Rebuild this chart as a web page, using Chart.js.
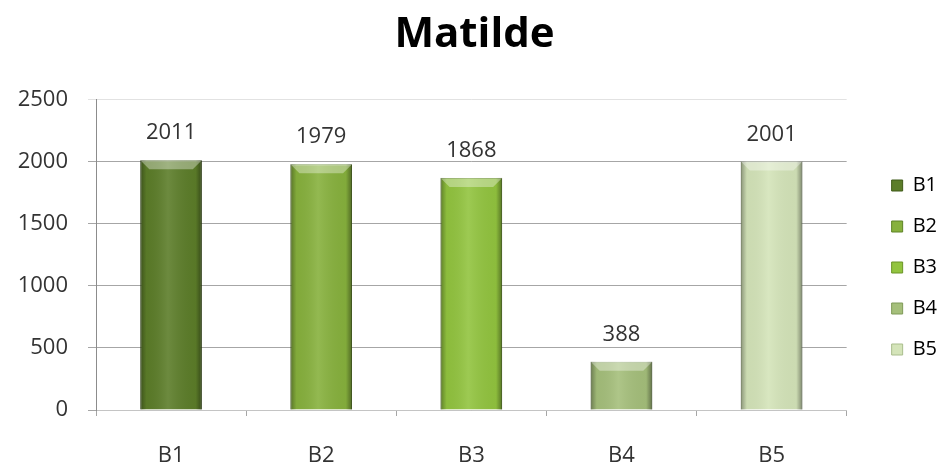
<!DOCTYPE html>
<html>
<head>
<meta charset="utf-8">
<title>Matilde</title>
<script src="https://cdn.jsdelivr.net/npm/chart.js@4"></script>
<style>
  body { margin: 0; background: #fff; }
</style>
</head>
<body>
<canvas id="chart" width="945" height="467"></canvas>
<script>
/* =========================
   DATA
========================= */
const categories = ["B1", "B2", "B3", "B4", "B5"];
const values = [2011, 1979, 1868, 388, 2001];
const yMin = 0;
const yMax = 2500;
const yStep = 500;

const barColors  = ["#5c7d29", "#87b13d", "#92c43f", "#a5bf7b", "#d4e4b9"];
const edgeColors = ["#3f5a18", "#5e8326", "#6a9427", "#7f9a58", "#a9bd8c"];

const FONT = "'Open Sans', 'Liberation Sans', sans-serif";
const TEXT = "#333333";

/* =========================
   PLUGINS
========================= */

// bevel shading on top of each bar
const bevelPlugin = {
    id: "bevel",
    afterDatasetsDraw(chart) {
        const ctx = chart.ctx;
        chart.getDatasetMeta(0).data.forEach(bar => {
            const left = bar.x - bar.width / 2;
            const right = bar.x + bar.width / 2;
            const top = bar.y;
            const bottom = bar.base;

            ctx.save();
            const g = ctx.createLinearGradient(left, 0, right, 0);
            g.addColorStop(0, "rgba(0,0,0,0.35)");
            g.addColorStop(0.1, "rgba(0,0,0,0.04)");
            g.addColorStop(0.45, "rgba(255,255,255,0.10)");
            g.addColorStop(0.9, "rgba(0,0,0,0.04)");
            g.addColorStop(1, "rgba(0,0,0,0.40)");
            ctx.fillStyle = g;
            ctx.fillRect(left, top, right - left, bottom - top);

            const b = Math.min(9, (bottom - top) / 2);
            ctx.beginPath();
            ctx.moveTo(left, top);
            ctx.lineTo(right, top);
            ctx.lineTo(right - b, top + b);
            ctx.lineTo(left + b, top + b);
            ctx.closePath();
            ctx.fillStyle = "rgba(255,255,255,0.35)";
            ctx.fill();
            ctx.restore();
        });
    }
};

// value labels above bars
const valueLabelPlugin = {
    id: "valueLabels",
    afterDatasetsDraw(chart) {
        const ctx = chart.ctx;
        ctx.save();
        ctx.font = "22px " + FONT;
        ctx.fillStyle = TEXT;
        ctx.textAlign = "center";
        ctx.textBaseline = "middle";
        chart.getDatasetMeta(0).data.forEach((bar, i) => {
            ctx.fillText(values[i], bar.x, bar.y - 27);
        });
        ctx.restore();
    }
};

// nudge the legend block and title into place
const legendShift = { x: 24, y: 34 };
const titleShiftX = 13;
const shiftPlugin = {
    id: "shift",
    afterLayout(chart) {
        const lg = chart.legend;
        lg.left += legendShift.x; lg.right += legendShift.x;
        lg.top += legendShift.y; lg.bottom += legendShift.y;
        const t = chart.titleBlock;
        if (t) { t.left += titleShiftX; t.right += titleShiftX; }
    }
};

/* =========================
   CHART
========================= */
new Chart(document.getElementById("chart"), {
    type: "bar",
    data: {
        labels: categories,
        datasets: [{
            data: values,
            backgroundColor: barColors,
            borderColor: edgeColors,
            borderWidth: 1,
            categoryPercentage: 1,
            barPercentage: 0.41
        }]
    },
    options: {
        responsive: false,
        animation: false,
        layout: { padding: { left: 0, right: 22, top: 0, bottom: 0 } },
        plugins: {
            tooltip: { enabled: false },
            title: {
                display: true,
                text: "Matilde",
                color: "#000",
                font: { family: FONT, size: 42, weight: "bold" },
                padding: { top: 10, bottom: 39 }
            },
            legend: {
                position: "right",
                labels: {
                    font: { family: FONT, size: 20 },
                    color: TEXT,
                    boxWidth: 11,
                    boxHeight: 11,
                    padding: 21,
                    generateLabels: () => categories.map((c, i) => ({
                        text: c,
                        fillStyle: barColors[i],
                        strokeStyle: edgeColors[i],
                        lineWidth: 1,
                        hidden: false,
                        index: i
                    }))
                }
            }
        },
        scales: {
            x: {
                grid: {
                    drawOnChartArea: false,
                    offset: true,
                    tickLength: 6,
                    color: "#a6a6a6"
                },
                border: { color: "#c4c4c4" },
                ticks: {
                    font: { family: FONT, size: 22 },
                    color: TEXT,
                    padding: 27
                },
                afterFit: s => { s.height = 57; }
            },
            y: {
                min: yMin,
                max: yMax,
                grid: {
                    color: ctx => ctx.tick && ctx.tick.value === yMax ? "#e2e2e2" : "#a6a6a6",
                    tickLength: 8
                },
                border: { color: "#8c8c8c" },
                ticks: {
                    stepSize: yStep,
                    font: { family: FONT, size: 22 },
                    color: TEXT,
                    padding: 20,
                    callback: v => String(v)
                },
                afterFit: s => { s.width = 96; }
            }
        }
    },
    plugins: [bevelPlugin, valueLabelPlugin, shiftPlugin]
});
</script>
</body>
</html>
